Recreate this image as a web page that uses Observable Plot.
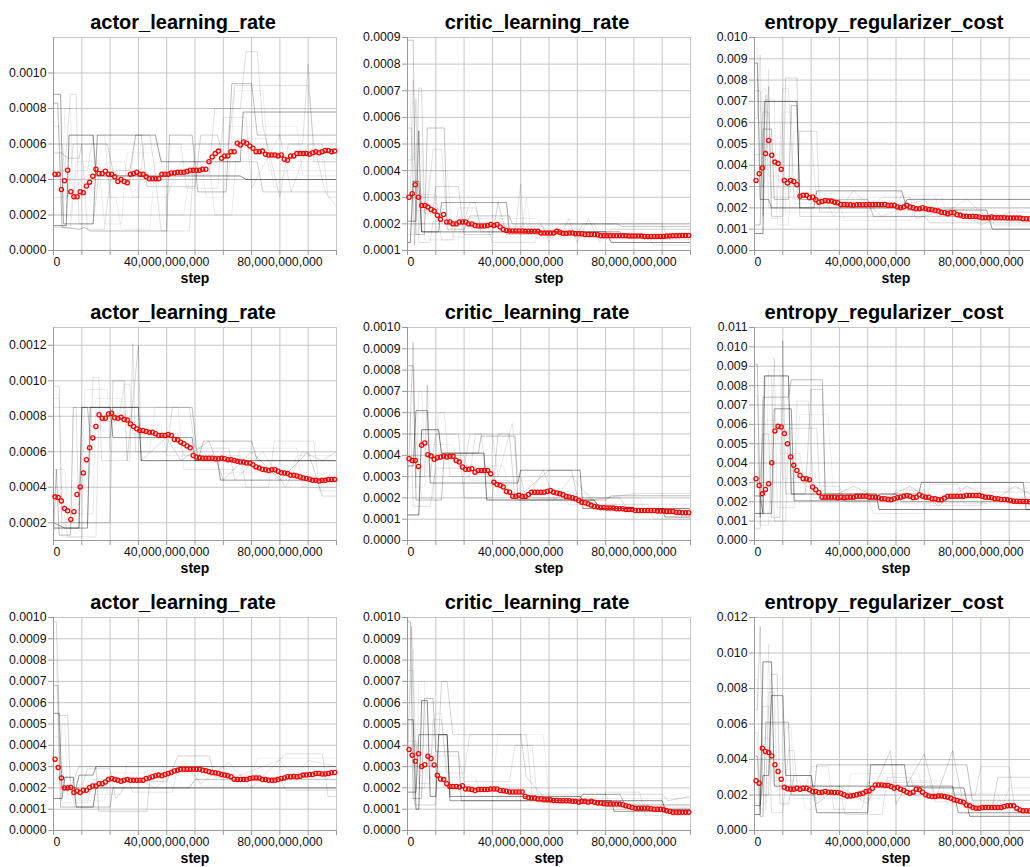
<!DOCTYPE html>
<html><head><meta charset="utf-8">
<script src="https://cdn.jsdelivr.net/npm/d3@7"></script>
<script src="https://cdn.jsdelivr.net/npm/@observablehq/plot@0.6"></script>
<style>
html,body{margin:0;padding:0;background:#fff;}
body{width:1030px;height:867px;overflow:hidden;position:relative;font-family:"Liberation Sans",Arial,Helvetica,sans-serif;}
.panel{position:absolute;}
</style></head><body>
<script>
// ---------- data ----------
const titles = ["actor_learning_rate","critic_learning_rate","entropy_regularizer_cost"];
const xGrid = [0,1e10,2e10,3e10,4e10,5e10,6e10,7e10,8e10,9e10,1e11];
const xLabeled = [4e10, 8e10];
const SAMPLE_START = 0.55e9, SAMPLE_EVERY = 1.11e9;

// mean (red points) per panel
const meanActor1 = [0.00043,0.00043,0.000344,0.000393,0.000452,0.000331,0.000303,0.000303,0.000331,0.000325,
0.000363,0.000385,0.000419,0.000458,0.000434,0.000434,0.000447,0.00043,0.00043,0.000415,
0.000389,0.0004,0.000389,0.000381,0.00043,0.000434,0.000441,0.00043,0.00043,0.000415,
0.000404,0.000404,0.000404,0.000404,0.00043,0.00043,0.00043,0.000437,0.000437,0.000441,
0.000441,0.000441,0.000445,0.000452,0.000452,0.000452,0.000452,0.000458,0.000458,0.0005,
0.000527,0.000546,0.00056,0.00052,0.000533,0.000533,0.000557,0.000557,0.000604,0.000594,
0.000611,0.000604,0.000589,0.000576,0.000557,0.000557,0.00056,0.000542,0.000538,0.000538,
0.000538,0.000533,0.000538,0.000514,0.000508,0.000533,0.000533,0.000546,0.000546,0.000546,
0.000546,0.000542,0.000551,0.000557,0.000551,0.000557,0.000564,0.000564,0.000557,0.00056];
const meanCritic1 = [0.0003,0.000313,0.000347,0.0003,0.000269,0.000269,0.000263,0.000254,0.000248,0.000232,
0.000217,0.000235,0.000207,0.000207,0.0002,0.0002,0.000207,0.000207,0.000207,0.0002,
0.0002,0.000194,0.000192,0.000192,0.000192,0.000194,0.000198,0.000194,0.000198,0.000188,
0.000179,0.000175,0.000173,0.000173,0.000173,0.000173,0.000173,0.000172,0.000172,0.000172,
0.000172,0.000172,0.000166,0.000166,0.000166,0.000166,0.000166,0.000172,0.000169,0.000165,
0.000165,0.000166,0.000166,0.000163,0.000163,0.000163,0.00016,0.00016,0.00016,0.00016,
0.000159,0.000155,0.000155,0.000155,0.000155,0.000155,0.000155,0.000155,0.000155,0.000155,
0.000154,0.000154,0.000154,0.000154,0.000154,0.000153,0.000153,0.000153,0.000153,0.000153,
0.000153,0.000153,0.000154,0.000154,0.000155,0.000155,0.000155,0.000156,0.000156,0.000156];
const meanEntropy1 = [0.00329,0.0036,0.00387,0.00455,0.00517,0.00447,0.00415,0.00408,0.00381,0.00329,
0.00317,0.00329,0.00324,0.00309,0.00255,0.00259,0.00259,0.00248,0.00251,0.00238,
0.00227,0.0023,0.00235,0.00232,0.00232,0.00227,0.00224,0.00216,0.00216,0.00215,
0.00215,0.00212,0.00215,0.00215,0.00215,0.00215,0.00216,0.00216,0.00216,0.00216,
0.00216,0.00216,0.00212,0.00212,0.00212,0.00204,0.00201,0.00204,0.00212,0.00204,
0.00201,0.00196,0.00196,0.00201,0.00196,0.00193,0.00191,0.00188,0.00185,0.0018,
0.00177,0.00172,0.00177,0.00177,0.00168,0.00165,0.00161,0.00161,0.0016,0.00161,
0.0016,0.00157,0.00154,0.00154,0.00154,0.00157,0.00154,0.00154,0.00154,0.00154,
0.00152,0.00152,0.00152,0.00152,0.00152,0.00149,0.00149,0.00148,0.00148,0.00147];
const meanActor2 = [0.000346,0.000342,0.000323,0.00028,0.000267,0.000219,0.000262,0.000359,0.000402,0.00048,
0.000555,0.000622,0.000678,0.000742,0.000809,0.000789,0.000789,0.000813,0.000817,0.000791,
0.000789,0.000794,0.000781,0.000779,0.000757,0.000742,0.000729,0.00072,0.00072,0.000714,
0.00071,0.00071,0.000701,0.000692,0.000692,0.000692,0.000697,0.000692,0.000669,0.000667,
0.000654,0.000645,0.000632,0.000622,0.000579,0.00057,0.000566,0.000564,0.000564,0.000564,
0.000564,0.000561,0.000561,0.000564,0.000561,0.000555,0.000555,0.000551,0.000546,0.000542,
0.000542,0.000536,0.000536,0.000527,0.000514,0.000508,0.000501,0.000499,0.000495,0.000499,
0.000499,0.00049,0.000482,0.00048,0.000477,0.000467,0.000467,0.000464,0.000458,0.000452,
0.000449,0.000445,0.000439,0.000439,0.000435,0.000439,0.000439,0.000443,0.000443,0.000443];
const meanCritic2 = [0.000384,0.000376,0.000376,0.000348,0.000447,0.000458,0.000403,0.000397,0.000381,0.000389,
0.000392,0.000397,0.000392,0.000395,0.000395,0.000376,0.000368,0.000345,0.000334,0.000334,
0.000337,0.000321,0.000329,0.000329,0.000329,0.000329,0.000313,0.000274,0.000263,0.000259,
0.000251,0.00023,0.000227,0.000208,0.000208,0.000212,0.000207,0.000207,0.000216,0.000227,
0.000227,0.000227,0.000227,0.000227,0.00023,0.000235,0.000227,0.000223,0.000219,0.000215,
0.000207,0.000204,0.000201,0.000196,0.000188,0.00018,0.000177,0.000172,0.000165,0.00016,
0.000157,0.000154,0.000154,0.000152,0.000152,0.000152,0.000149,0.000149,0.000149,0.000146,
0.000146,0.000146,0.000141,0.000141,0.000141,0.000141,0.000141,0.000141,0.000141,0.000138,
0.000138,0.000138,0.000136,0.000136,0.000136,0.000133,0.000133,0.00013,0.00013,0.00013];
const meanEntropy2 = [0.00319,0.00284,0.00241,0.00264,0.00293,0.00402,0.00566,0.0059,0.00586,0.00552,
0.005,0.00431,0.00388,0.00362,0.00336,0.00319,0.00319,0.00314,0.00276,0.00262,
0.00247,0.00224,0.00224,0.00224,0.00224,0.00224,0.00221,0.00224,0.00221,0.00224,
0.00224,0.00224,0.00228,0.00228,0.00228,0.00228,0.00224,0.00224,0.00224,0.00221,
0.00216,0.00216,0.00212,0.0021,0.00216,0.00221,0.00224,0.00229,0.00233,0.00229,
0.00221,0.00224,0.00236,0.00229,0.00224,0.00224,0.00216,0.00216,0.0021,0.0021,
0.00219,0.00229,0.00229,0.00229,0.00229,0.00229,0.00229,0.00233,0.00233,0.00233,
0.00233,0.00233,0.00229,0.00224,0.00224,0.00221,0.00216,0.00216,0.00212,0.00212,
0.0021,0.00207,0.00203,0.00203,0.00202,0.00202,0.00202,0.002,0.00199,0.00198];
const meanActor3 = [0.000335,0.000296,0.000247,0.0002,0.0002,0.000202,0.000178,0.000186,0.000178,0.000189,
0.000189,0.000202,0.000209,0.000209,0.00022,0.00022,0.000228,0.000239,0.000244,0.000239,
0.000236,0.000231,0.000236,0.000239,0.000236,0.000236,0.000236,0.000236,0.000236,0.000244,
0.000247,0.000252,0.000257,0.00026,0.000257,0.000263,0.000268,0.000272,0.000279,0.000283,
0.000287,0.000288,0.000288,0.000288,0.000288,0.000288,0.000287,0.000283,0.00028,0.000276,
0.000272,0.000271,0.000268,0.000263,0.00026,0.000257,0.000252,0.000241,0.000239,0.000239,
0.000239,0.000239,0.000244,0.000247,0.000247,0.000247,0.000239,0.000239,0.000236,0.000236,
0.000236,0.000239,0.000244,0.000247,0.000252,0.000252,0.000255,0.000252,0.000255,0.00026,
0.00026,0.000263,0.000263,0.000268,0.000268,0.000265,0.000265,0.000268,0.000271,0.000272];
const meanCritic3 = [0.00038,0.000353,0.000325,0.00036,0.000301,0.000309,0.000349,0.000338,0.000308,0.000259,
0.000242,0.000239,0.00022,0.000207,0.000207,0.000207,0.000204,0.00021,0.000195,0.000195,
0.000192,0.000188,0.000192,0.000192,0.000192,0.000192,0.000195,0.000195,0.000195,0.000188,
0.000187,0.000184,0.000181,0.000181,0.000181,0.000181,0.000181,0.00016,0.000155,0.000152,
0.000152,0.000148,0.000148,0.000144,0.000144,0.000144,0.000141,0.000141,0.00014,0.00014,
0.00014,0.00014,0.000137,0.000137,0.000133,0.000137,0.000137,0.000133,0.000137,0.000133,
0.000129,0.000129,0.000126,0.000124,0.000124,0.000124,0.000124,0.000124,0.000121,0.000116,
0.000113,0.000108,0.000105,0.000105,0.000105,0.000105,0.000105,0.000102,0.0001,0.0001,
0.0001,0.000097,0.000093,0.000089,0.000086,0.000086,0.000086,0.000086,0.000086,0.000086];
const meanEntropy3 = [0.0028,0.00266,0.00463,0.00445,0.00439,0.0042,0.0037,0.00332,0.00289,0.00244,
0.00235,0.00233,0.00233,0.00238,0.00233,0.00238,0.00238,0.00229,0.0022,0.0022,
0.00214,0.00216,0.0022,0.00216,0.00216,0.00214,0.00214,0.0021,0.00201,0.00195,
0.00195,0.00197,0.00201,0.00205,0.0021,0.0022,0.00223,0.00238,0.00257,0.00257,
0.00257,0.00253,0.00253,0.00248,0.00238,0.00242,0.00233,0.00225,0.00216,0.0021,
0.00216,0.00233,0.00229,0.00216,0.00201,0.00195,0.00191,0.00191,0.00195,0.00195,
0.00191,0.00188,0.00182,0.00173,0.00169,0.00163,0.00159,0.00144,0.00139,0.00129,
0.00126,0.00126,0.00129,0.00129,0.00129,0.00129,0.00129,0.00129,0.00129,0.00135,
0.00139,0.00139,0.00139,0.00126,0.00116,0.00111,0.00111,0.0011,0.0011,0.00109];

// gray member traces: [step in billions, value], with opacity
const grayActor1 = [
 {op:.45, pts:[[0,0.00014],[4.5,0.00014],[5.5,0.00065],[14,0.00065],[15,0.00042],[66,0.00042],[68,0.0004],[100,0.0004]]},
 {op:.36, pts:[[0,0.00088],[2.5,0.00088],[3.5,0.00015],[14,0.00015],[15.5,0.00065],[36,0.00065],[38,0.0005],[66,0.0005],[67,0.00078],[100,0.00078]]},
 {op:.26, pts:[[0,0.00083],[1.5,0.00083],[3,0.00013],[9,0.00012],[11,0.00013],[13,0.00011],[40,0.00011],[41,0.00065],[49,0.00065],[51,0.00033],[61,0.00033],[63,0.00094],[70,0.00094],[72,0.00065],[100,0.00065]]},
 {op:.18, pts:[[0,0.00055],[3,0.00055],[5,0.00052],[9,0.00052],[10,0.0006],[19,0.0006],[21,0.00045],[27,0.00045],[29,0.00065],[31,0.00065],[33,0.00036],[50,0.00036],[52,0.00065],[58,0.00065],[60,0.0005],[72,0.0005],[74,0.00033],[100,0.00033]]},
 {op:.12, pts:[[0,0.0003],[5,0.0003],[7,0.0006],[10,0.0006],[12,0.00012],[18,0.00012],[20,0.0004],[27,0.0004],[29,0.00065],[34,0.00065],[36,0.00043],[55,0.00043],[57,0.0008],[66,0.0008],[68,0.00112],[72,0.00112],[74,0.0007],[80,0.0003],[83,0.0006],[88,0.0006],[90,0.00105],[92,0.0005],[100,0.0005]]},
 {op:.12, pts:[[0,0.00045],[4,0.00045],[6,0.00088],[8,0.00088],[9,0.00015],[14,0.00015],[16,0.00042],[36,0.00042],[38,0.00011],[48,0.00011],[50,0.0006],[62,0.0006],[64,0.00093],[90,0.00093],[92,0.0006],[96,0.00033],[100,0.00025]]},
 {op:.1, pts:[[0,0.00013],[6,0.00013],[8,0.00045],[12,0.00045],[14,0.00065],[18,0.00065],[20,0.0003],[30,0.0003],[32,0.0006],[45,0.0006],[47,0.00035],[58,0.00035],[60,0.00075],[68,0.00075],[70,0.00035],[80,0.00065],[84,0.00033],[90,0.0006],[95,0.0006],[97,0.0003],[100,0.0003]]},
 {op:.08, pts:[[0,0.0006],[3,0.0006],[5,0.0003],[10,0.0004],[20,0.0005],[25,0.0005],[28,0.0003],[40,0.0003],[45,0.0005],[55,0.0005],[57,0.0002],[63,0.0002],[65,0.00063],[75,0.00063],[78,0.00035],[85,0.0005],[100,0.0005]]},
 {op:.07, pts:[[0,0.0007],[2,0.0007],[3,0.0002],[6,0.0002],[8,0.0005],[16,0.0005],[18,0.00015],[24,0.00015],[26,0.00055],[38,0.00055],[40,0.0002],[46,0.0002],[48,0.0004],[62,0.0004],[64,0.0009],[74,0.0009],[76,0.00045],[100,0.00045]]},
 {op:.07, pts:[[0,0.0002],[3,0.0002],[4,0.0008],[6,0.0008],[7,0.0003],[22,0.0003],[24,0.00012],[34,0.00012],[36,0.0005],[52,0.0005],[54,0.0003],[60,0.0003],[62,0.0007],[86,0.0007],[88,0.00042],[100,0.00042]]}
];
const grayCritic1 = [
 {op:.45, pts:[[0,0.00013],[1,0.00013],[2,0.00036],[4,0.00036],[5,0.00017],[70,0.00017],[72,0.00013],[100,0.00013]]},
 {op:.36, pts:[[0,0.00021],[3,0.00021],[4,0.00055],[5,0.00017],[11,0.00017],[12,0.00028],[35,0.00028],[36,0.00017],[75,0.00017],[77,0.00015],[100,0.00015]]},
 {op:.22, pts:[[0,0.00089],[2,0.00089],[3,0.00016],[6,0.00016],[7,0.00056],[13,0.00056],[14,0.00018],[20,0.00018],[22,0.00023],[36,0.00023],[37,0.0002],[74,0.0002],[76,0.00019],[100,0.00019]]},
 {op:.16, pts:[[0,0.00056],[1.5,0.00056],[2.5,0.00012],[4,0.00071],[5,0.00071],[6,0.00024],[9,0.00024],[10,0.00034],[18,0.00034],[20,0.00016],[30,0.00016],[32,0.00028],[35,0.00016],[60,0.00016],[62,0.0002],[100,0.0002]]},
 {op:.12, pts:[[0,0.00044],[2,0.00044],[3,0.00067],[4,0.00013],[8,0.00013],[9,0.00021],[20,0.00021],[22,0.00028],[24,0.00028],[26,0.00017],[38,0.00017],[40,0.00035],[41,0.00017],[55,0.00017],[57,0.00022],[60,0.00013],[64,0.00022],[68,0.00013],[72,0.00018],[100,0.00018]]},
 {op:.1, pts:[[0,0.00033],[1,0.00033],[2,0.00074],[3,0.00025],[7,0.00025],[9,0.00048],[12,0.00048],[14,0.0002],[28,0.0002],[30,0.00013],[45,0.00013],[47,0.0002],[50,0.00015],[56,0.0002],[66,0.0002],[68,0.00015],[85,0.00015],[87,0.00012],[100,0.00012]]},
 {op:.1, pts:[[0,0.00016],[4,0.00016],[5,0.00031],[10,0.00031],[12,0.00014],[16,0.00014],[18,0.00026],[24,0.00026],[26,0.00019],[48,0.00019],[50,0.00013],[54,0.0002],[90,0.0002],[92,0.00014],[100,0.00014]]},
 {op:.07, pts:[[0,0.0007],[1,0.0007],[2,0.0002],[6,0.0002],[8,0.0004],[14,0.0004],[16,0.00015],[40,0.00015],[42,0.0003],[44,0.00015],[100,0.00015]]},
 {op:.07, pts:[[0,0.0004],[2,0.0004],[3,0.0005],[5,0.0005],[6,0.00014],[18,0.00014],[20,0.00022],[46,0.00022],[48,0.00018],[100,0.00018]]}
];
const grayEntropy1 = [
 {op:.45, pts:[[0,0.0008],[3,0.0008],[3.5,0.007],[15,0.007],[16,0.002],[52,0.002],[54,0.0024],[100,0.0024]]},
 {op:.38, pts:[[0,0.0088],[1,0.0088],[2,0.0024],[5,0.0024],[6,0.002],[21,0.002],[22,0.0028],[52,0.0028],[54,0.0019],[82,0.0019],[84,0.001],[100,0.001]]},
 {op:.25, pts:[[0,0.0012],[2,0.0012],[3,0.0057],[6,0.0057],[7,0.0024],[12,0.0024],[13,0.0068],[15,0.0068],[16,0.0024],[40,0.0024],[42,0.0016],[100,0.0016]]},
 {op:.16, pts:[[0,0.0075],[2,0.0075],[3,0.0016],[5,0.0077],[6,0.0016],[10,0.0016],[11,0.0081],[15,0.0081],[16,0.0016],[60,0.0016],[62,0.0013],[100,0.0013]]},
 {op:.12, pts:[[0,0.0045],[2,0.0045],[3,0.0065],[5,0.0065],[6,0.0025],[15,0.0025],[16,0.0056],[22,0.0056],[23,0.0018],[40,0.0018],[45,0.0025],[55,0.0025],[57,0.0015],[70,0.002],[80,0.0012],[90,0.0018],[100,0.0018]]},
 {op:.1, pts:[[0,0.0062],[1,0.0062],[2,0.0092],[3,0.003],[4,0.0073],[5,0.002],[8,0.002],[10,0.0076],[12,0.0076],[14,0.0024],[25,0.0024],[28,0.0016],[35,0.0028],[45,0.0016],[60,0.0024],[65,0.0016],[75,0.0024],[85,0.0012],[100,0.0012]]},
 {op:.08, pts:[[0,0.003],[2,0.003],[4,0.0071],[7,0.0071],[8,0.0012],[12,0.0012],[14,0.0056],[20,0.0056],[22,0.0021],[50,0.0021],[52,0.0026],[66,0.0026],[68,0.0016],[100,0.0016]]},
 {op:.07, pts:[[0,0.0095],[1,0.0095],[2,0.004],[4,0.004],[5,0.0085],[6,0.0015],[9,0.0015],[10,0.0065],[13,0.0065],[14,0.0022],[30,0.0022],[32,0.0014],[55,0.0014],[57,0.002],[100,0.002]]},
 {op:.07, pts:[[0,0.002],[2,0.002],[3,0.0076],[4,0.0076],[5,0.0035],[9,0.0035],[10,0.006],[11,0.0018],[28,0.0018],[30,0.0025],[64,0.0025],[66,0.0014],[100,0.0014]]}
];
const grayActor2 = [
 {op:.5, pts:[[0,0.00017],[9,0.00017],[10,0.00085],[30,0.00085],[31,0.00055],[100,0.00055]]},
 {op:.4, pts:[[0,0.0002],[4,0.00017],[12,0.00017],[13,0.00085],[20,0.00085],[21,0.00068],[49,0.00068],[50,0.00055],[58,0.00055],[59,0.00044],[100,0.00044]]},
 {op:.25, pts:[[0,0.00013],[1,0.0005],[2,0.00013],[6,0.00013],[7,0.00085],[12,0.00085],[13,0.00068],[20,0.00068],[21,0.00085],[49,0.00085],[51,0.00055],[53,0.00066],[70,0.00066],[72,0.00055],[100,0.00055]]},
 {op:.16, pts:[[0,0.00097],[2,0.00097],[3,0.0002],[20,0.0002],[21,0.001],[25,0.001],[26,0.00055],[30,0.0012],[31,0.00055],[40,0.00068],[45,0.00055],[55,0.00066],[60,0.00044],[70,0.0006],[80,0.00044],[90,0.0006],[95,0.00035],[100,0.00035]]},
 {op:.12, pts:[[0,0.00085],[8,0.00085],[9,0.0002],[12,0.0002],[14,0.00102],[16,0.00102],[17,0.00055],[27,0.00055],[28,0.00121],[29,0.0006],[40,0.0006],[42,0.00085],[48,0.00085],[50,0.00062],[62,0.00062],[64,0.00044],[74,0.0006],[82,0.0004],[88,0.0006],[95,0.00055],[100,0.0006]]},
 {op:.1, pts:[[0,0.00035],[3,0.00035],[5,0.00012],[15,0.00012],[16,0.00077],[23,0.00077],[25,0.00098],[27,0.00098],[28,0.0007],[44,0.0007],[46,0.00058],[66,0.00058],[68,0.0004],[76,0.0004],[78,0.00066],[92,0.00066],[94,0.00038],[100,0.00038]]},
 {op:.07, pts:[[0,0.0009],[2,0.0009],[3,0.00012],[10,0.00012],[11,0.00095],[19,0.00095],[20,0.0006],[34,0.0006],[36,0.00085],[44,0.00085],[46,0.0005],[64,0.0005],[66,0.00062],[86,0.00062],[88,0.0004],[100,0.0004]]},
 {op:.07, pts:[[0,0.0005],[4,0.0005],[5,0.00025],[14,0.00025],[15,0.0009],[24,0.0009],[26,0.00075],[38,0.00075],[40,0.00058],[58,0.00058],[60,0.00048],[84,0.00048],[86,0.00058],[100,0.00058]]}
];
const grayCritic2 = [
 {op:.5, pts:[[0,0.00012],[4,0.00012],[5,0.00052],[11,0.00052],[12,0.00041],[27,0.00041],[28,0.00019],[66,0.00019],[68,0.00015],[100,0.00015]]},
 {op:.4, pts:[[0,0.00035],[2,0.00035],[3,0.00061],[7,0.00061],[8,0.00027],[39,0.00027],[40,0.00033],[61,0.00033],[62,0.00015],[90,0.00015],[91,0.00011],[100,0.00011]]},
 {op:.25, pts:[[0,0.00082],[2,0.00082],[3,0.00019],[12,0.00019],[13,0.00041],[25,0.00041],[26,0.00049],[38,0.00049],[39,0.00019],[70,0.00019],[72,0.00021],[100,0.00021]]},
 {op:.16, pts:[[0,0.0002],[2,0.00093],[3,0.0003],[6,0.0003],[7,0.00073],[8,0.0003],[10,0.0005],[18,0.0005],[20,0.0002],[30,0.0002],[32,0.0005],[36,0.0005],[38,0.00019],[50,0.00033],[58,0.00033],[60,0.0002],[75,0.0002],[78,0.00014],[100,0.00014]]},
 {op:.12, pts:[[0,0.0006],[1,0.0006],[2,0.00016],[8,0.00016],[10,0.00034],[20,0.00034],[22,0.0005],[26,0.0005],[28,0.0003],[40,0.0003],[42,0.00019],[48,0.00033],[52,0.00019],[58,0.0003],[65,0.00019],[80,0.00022],[100,0.00022]]},
 {op:.1, pts:[[0,0.0005],[3,0.0005],[5,0.0002],[9,0.0002],[11,0.0006],[13,0.0006],[15,0.0003],[22,0.0003],[24,0.0005],[30,0.0005],[32,0.0003],[37,0.00055],[40,0.0002],[55,0.0002],[57,0.00017],[85,0.00017],[87,0.0001],[100,0.0001]]},
 {op:.07, pts:[[0,0.0007],[2,0.0007],[3,0.00025],[6,0.00025],[8,0.00045],[16,0.00045],[18,0.00035],[34,0.00035],[36,0.00022],[64,0.00022],[66,0.00017],[100,0.00017]]},
 {op:.07, pts:[[0,0.00025],[3,0.00025],[4,0.0007],[5,0.0007],[6,0.0004],[20,0.0004],[22,0.00028],[44,0.00028],[46,0.0002],[82,0.0002],[84,0.00013],[100,0.00013]]}
];
const grayEntropy2 = [
 {op:.5, pts:[[0,0.0014],[3,0.0014],[3.5,0.0085],[12,0.0085],[13,0.0024],[43,0.0024],[44,0.0016],[100,0.0016]]},
 {op:.4, pts:[[0,0.0023],[2,0.0023],[3,0.0014],[6,0.0014],[7,0.0068],[13,0.0068],[14,0.00205],[43,0.00205],[44,0.0024],[58,0.0024],[59,0.003],[95,0.003],[96,0.0016],[100,0.0016]]},
 {op:.25, pts:[[0,0.0091],[1,0.0091],[2,0.0012],[3,0.0074],[12,0.0074],[13,0.0083],[24,0.0083],[25,0.0024],[50,0.0024],[52,0.002],[100,0.002]]},
 {op:.16, pts:[[0,0.0006],[2,0.0006],[3,0.0055],[5,0.0055],[6,0.0012],[9,0.0012],[10,0.0103],[11,0.0024],[18,0.0024],[20,0.0078],[24,0.0078],[25,0.0021],[35,0.0028],[45,0.0021],[55,0.0028],[65,0.0018],[75,0.0028],[85,0.0021],[92,0.0028],[100,0.0022]]},
 {op:.12, pts:[[0,0.0032],[2,0.0032],[4,0.0085],[6,0.0085],[7,0.001],[11,0.001],[12,0.0058],[22,0.0058],[23,0.0028],[30,0.0028],[32,0.002],[48,0.002],[50,0.0026],[60,0.0026],[62,0.0018],[80,0.0018],[82,0.0025],[100,0.0025]]},
 {op:.1, pts:[[0,0.005],[1,0.005],[2,0.0008],[5,0.0008],[7,0.0094],[8,0.0017],[14,0.0017],[15,0.0072],[19,0.0072],[21,0.0022],[40,0.0022],[42,0.0014],[60,0.0014],[62,0.0029],[72,0.0029],[74,0.0019],[100,0.0019]]},
 {op:.07, pts:[[0,0.0075],[1,0.0075],[2,0.0025],[4,0.0025],[5,0.0088],[9,0.0088],[10,0.0032],[14,0.0032],[16,0.0065],[26,0.0065],[28,0.0022],[100,0.0022]]},
 {op:.07, pts:[[0,0.0012],[3,0.0012],[4,0.0062],[8,0.0062],[9,0.0045],[16,0.0045],[18,0.0026],[46,0.0026],[48,0.0019],[70,0.0019],[72,0.0027],[100,0.0027]]}
];
const grayActor3 = [
 {op:.45, pts:[[0,0.00015],[3,0.00015],[4,0.00025],[7,0.00025],[8,0.00011],[14,0.00011],[15,0.0002],[100,0.0002]]},
 {op:.4, pts:[[0,0.00055],[2,0.00055],[3,0.0002],[8,0.0002],[9,0.00026],[14,0.00026],[15,0.0003],[100,0.0003]]},
 {op:.25, pts:[[0,0.00068],[1.5,0.00068],[2.5,0.00011],[20,0.00011],[21,0.0002],[48,0.0002],[50,0.00024],[100,0.00024]]},
 {op:.16, pts:[[0,0.00098],[1,0.00098],[2,0.00054],[5,0.00054],[6,0.0002],[9,0.0003],[15,0.0003],[16,0.00009],[33,0.00009],[34,0.00023],[40,0.00023],[44,0.00035],[55,0.00035],[57,0.00025],[80,0.00025],[82,0.00019],[100,0.00019]]},
 {op:.12, pts:[[0,0.0003],[3,0.0003],[4,0.0002],[10,0.0002],[12,0.00029],[20,0.00029],[22,0.00015],[28,0.00025],[36,0.0002],[46,0.00032],[52,0.00022],[62,0.00032],[70,0.0002],[82,0.00036],[95,0.00036],[97,0.00016],[100,0.00016]]},
 {op:.1, pts:[[0,0.00044],[2,0.00044],[3,0.00013],[12,0.00013],[14,0.00024],[26,0.00024],[28,0.00018],[42,0.00018],[44,0.0003],[60,0.0003],[62,0.00024],[80,0.00033],[85,0.00025],[90,0.00033],[100,0.0003]]},
 {op:.07, pts:[[0,0.0008],[1,0.0008],[2,0.00025],[6,0.00025],[7,0.00014],[18,0.00014],[20,0.00027],[50,0.00027],[52,0.00021],[78,0.00021],[80,0.0003],[100,0.0003]]},
 {op:.07, pts:[[0,0.00022],[2,0.00022],[3,0.0005],[4,0.0005],[5,0.00017],[24,0.00017],[26,0.00032],[38,0.00032],[40,0.00026],[70,0.00026],[72,0.00034],[100,0.00034]]}
];
const grayCritic3 = [
 {op:.45, pts:[[0,0.00052],[2,0.00052],[3,0.0001],[4,0.0001],[5,0.00061],[7,0.00061],[8,0.00016],[10,0.00016],[11,0.00045],[14,0.00045],[15,0.00016],[61,0.00016],[62,0.00014],[90,0.00014],[91,0.0001],[100,0.0001]]},
 {op:.4, pts:[[0,0.00018],[3,0.00018],[4,0.00045],[14,0.00045],[15,0.00014],[72,0.00014],[73,0.00009],[100,0.00009]]},
 {op:.25, pts:[[0,0.00098],[1,0.00098],[2,0.00015],[5,0.00015],[6,0.00062],[9,0.00062],[10,0.00037],[18,0.00037],[19,0.00014],[60,0.00014],[62,0.00017],[75,0.00017],[77,0.00012],[100,0.00012]]},
 {op:.16, pts:[[0,0.0003],[1.5,0.00096],[2.5,0.00012],[10,0.00012],[12,0.0007],[14,0.0007],[16,0.00045],[40,0.00045],[42,0.00025],[50,0.00013],[60,0.00013],[62,0.00017],[90,0.00017],[92,0.00014],[100,0.00016]]},
 {op:.12, pts:[[0,0.00042],[3,0.00042],[4,0.00022],[8,0.00022],[9,0.00052],[12,0.00052],[14,0.00027],[20,0.00027],[22,0.00045],[42,0.00045],[44,0.00017],[70,0.00017],[72,0.00011],[100,0.00011]]},
 {op:.1, pts:[[0,0.00075],[2,0.00075],[3,0.0002],[6,0.0002],[7,0.00035],[18,0.00035],[20,0.00023],[36,0.00023],[38,0.0004],[44,0.0004],[46,0.00013],[68,0.00013],[70,0.00018],[82,0.00018],[84,0.00007],[100,0.00007]]},
 {op:.07, pts:[[0,0.0006],[1,0.0006],[2,0.00085],[3,0.0003],[8,0.0003],[10,0.00055],[12,0.00055],[14,0.0002],[30,0.0002],[32,0.00045],[48,0.00045],[50,0.00015],[100,0.00015]]},
 {op:.07, pts:[[0,0.00015],[3,0.00015],[4,0.0007],[6,0.0007],[7,0.00025],[24,0.00025],[26,0.00016],[66,0.00016],[68,0.00012],[100,0.00012]]}
];
const grayEntropy3 = [
 {op:.45, pts:[[0,0.0009],[2,0.0009],[3,0.0095],[6,0.0095],[7,0.0025],[58,0.0025],[60,0.0024],[74,0.0024],[76,0.0008],[100,0.0008]]},
 {op:.4, pts:[[0,0.0014],[2,0.0014],[3,0.0031],[5,0.0031],[6,0.0076],[10,0.0076],[11,0.0031],[20,0.0031],[21,0.002],[22,0.001],[40,0.001],[41,0.0037],[53,0.0037],[54,0.0025],[70,0.0025],[72,0.001],[100,0.001]]},
 {op:.25, pts:[[0,0.0042],[1,0.0042],[2,0.0008],[3,0.0008],[4,0.0061],[12,0.0061],[13,0.002],[21,0.002],[22,0.0037],[75,0.0037],[77,0.0017],[100,0.0017]]},
 {op:.16, pts:[[0,0.0068],[1,0.0068],[2,0.0115],[3,0.002],[5,0.002],[6,0.0088],[8,0.0088],[9,0.0015],[12,0.0015],[14,0.0031],[20,0.0031],[22,0.0015],[30,0.0025],[40,0.0015],[48,0.0045],[50,0.0015],[60,0.0043],[64,0.0018],[70,0.0045],[74,0.0013],[84,0.0013],[86,0.003],[100,0.003]]},
 {op:.12, pts:[[0,0.002],[2,0.002],[3,0.007],[5,0.007],[6,0.001],[10,0.001],[12,0.0045],[14,0.0045],[15,0.0025],[30,0.0025],[32,0.0009],[45,0.0009],[47,0.003],[55,0.003],[57,0.002],[78,0.002],[80,0.0036],[90,0.0036],[92,0.0011],[100,0.0011]]},
 {op:.1, pts:[[0,0.0055],[1,0.0055],[2,0.0012],[4,0.0012],[5,0.0078],[7,0.0078],[8,0.0023],[18,0.0023],[20,0.0036],[26,0.0036],[28,0.0012],[38,0.0012],[40,0.0027],[62,0.0027],[64,0.0016],[88,0.0016],[90,0.0024],[100,0.0024]]},
 {op:.07, pts:[[0,0.0085],[1,0.0085],[2,0.0015],[4,0.0015],[5,0.0105],[6,0.003],[10,0.003],[11,0.0058],[13,0.0058],[14,0.0018],[44,0.0018],[46,0.0028],[66,0.0028],[68,0.0015],[100,0.0015]]},
 {op:.07, pts:[[0,0.0015],[2,0.0015],[3,0.0052],[5,0.0052],[6,0.0028],[16,0.0028],[18,0.0012],[32,0.0012],[34,0.0032],[58,0.0032],[60,0.0021],[86,0.0021],[88,0.0009],[100,0.0009]]}
];

// y scale settings per panel
const yTicksA1 = [0,0.0002,0.0004,0.0006,0.0008,0.001];
const yGridA1 = [0,0.0002,0.0004,0.0006,0.0008,0.001,0.0012];
const yTicksC1 = [0.0001,0.0002,0.0003,0.0004,0.0005,0.0006,0.0007,0.0008,0.0009];
const yTicksE1 = [0,0.001,0.002,0.003,0.004,0.005,0.006,0.007,0.008,0.009,0.01];
const yTicksA2 = [0.0002,0.0004,0.0006,0.0008,0.001,0.0012];
const yTicks10 = [0,0.0001,0.0002,0.0003,0.0004,0.0005,0.0006,0.0007,0.0008,0.0009,0.001];
const yTicksE2 = [0,0.001,0.002,0.003,0.004,0.005,0.006,0.007,0.008,0.009,0.01,0.011];
const yTicksE3 = [0,0.002,0.004,0.006,0.008,0.01,0.012];

const panels = [
 {row:0,col:0,title:titles[0],domain:[0,0.0012],grid:yGridA1,ticks:yTicksA1,fmt:".4f",mean:meanActor1,gray:grayActor1},
 {row:0,col:1,title:titles[1],domain:[0.0001,0.0009],grid:yTicksC1,ticks:yTicksC1,fmt:".4f",mean:meanCritic1,gray:grayCritic1},
 {row:0,col:2,title:titles[2],domain:[0,0.01],grid:yTicksE1,ticks:yTicksE1,fmt:".3f",mean:meanEntropy1,gray:grayEntropy1},
 {row:1,col:0,title:titles[0],domain:[0.0001,0.0013],grid:yTicksA2,ticks:yTicksA2,fmt:".4f",mean:meanActor2,gray:grayActor2},
 {row:1,col:1,title:titles[1],domain:[0,0.001],grid:yTicks10,ticks:yTicks10,fmt:".4f",mean:meanCritic2,gray:grayCritic2},
 {row:1,col:2,title:titles[2],domain:[0,0.011],grid:yTicksE2,ticks:yTicksE2,fmt:".3f",mean:meanEntropy2,gray:grayEntropy2},
 {row:2,col:0,title:titles[0],domain:[0,0.001],grid:yTicks10,ticks:yTicks10,fmt:".4f",mean:meanActor3,gray:grayActor3},
 {row:2,col:1,title:titles[1],domain:[0,0.001],grid:yTicks10,ticks:yTicks10,fmt:".4f",mean:meanCritic3,gray:grayCritic3},
 {row:2,col:2,title:titles[2],domain:[0,0.012],grid:yTicksE3,ticks:yTicksE3,fmt:".3f",mean:meanEntropy3,gray:grayEntropy3}
];

// ---------- layout ----------
const FRAME_W = 283, FRAME_H = 213;
const ML = 53, MR = 6, MT = 37, MB = 40;
const colLeft = [0, 354, 701];
const rowTop = [0, 290, 580];
const FONT = "'Liberation Sans', Arial, Helvetica, sans-serif";
const GRID = "#c6c6c6", AXIS = "#9a9a9a", TEXT = "#111";
const commaFmt = d3.format(",");

for (const p of panels) {
  const meanData = p.mean.map((v, i) => ({step: SAMPLE_START + i * SAMPLE_EVERY, value: v}));
  const yFmt = d3.format(p.fmt);
  const marks = [
    Plot.ruleX(xGrid, {stroke: GRID, strokeWidth: 1}),
    Plot.ruleY(p.grid, {stroke: GRID, strokeWidth: 1}),
    Plot.frame({stroke: GRID}),
    ...p.gray.map(s => Plot.line(s.pts, {x: d => d[0] * 1e9, y: d => d[1], stroke: "black", strokeOpacity: s.op, strokeWidth: 1, clip: true})),
    Plot.ruleX([0], {stroke: AXIS}),
    Plot.ruleY([p.domain[0]], {stroke: AXIS}),
    Plot.axisX(xGrid, {tickSize: 5, tickPadding: 2, stroke: AXIS, fill: TEXT, fontSize: 12.3, label: null,
      tickFormat: d => xLabeled.includes(d) ? commaFmt(d) : ""}),
    Plot.text([0], {x: d => d, frameAnchor: "bottom", textAnchor: "start", lineAnchor: "top", dy: 7, fontSize: 12.3, fill: TEXT, text: d => "0"}),
    Plot.axisY(p.ticks, {tickSize: 5, tickPadding: 2, stroke: AXIS, fill: TEXT, fontSize: 12.3, label: null, tickFormat: yFmt}),
    Plot.dot(meanData, {x: "step", y: "value", r: 2.1, stroke: "red", strokeWidth: 1.3, fill: "none"}),
    Plot.text([p.title], {frameAnchor: "top", lineAnchor: "middle", dy: -14.5, dx: -12, fontSize: 20, fontWeight: "bold", fill: "#000", text: d => d}),
    Plot.text(["step"], {frameAnchor: "bottom", lineAnchor: "middle", dy: 28, fontSize: 14, fontWeight: "bold", fill: "#000", text: d => d})
  ];
  const svg = Plot.plot({
    width: ML + FRAME_W + MR,
    height: MT + FRAME_H + MB,
    marginLeft: ML, marginRight: MR, marginTop: MT, marginBottom: MB,
    x: {domain: [0, 1e11], axis: null},
    y: {domain: p.domain, axis: null},
    style: {background: "transparent", fontFamily: FONT, fontSize: "12.3px", maxWidth: "none", overflow: "visible"},
    marks
  });
  const div = document.createElement("div");
  div.className = "panel";
  div.style.left = colLeft[p.col] + "px";
  div.style.top = rowTop[p.row] + "px";
  div.appendChild(svg);
  document.body.appendChild(div);
}
</script>
</body></html>
